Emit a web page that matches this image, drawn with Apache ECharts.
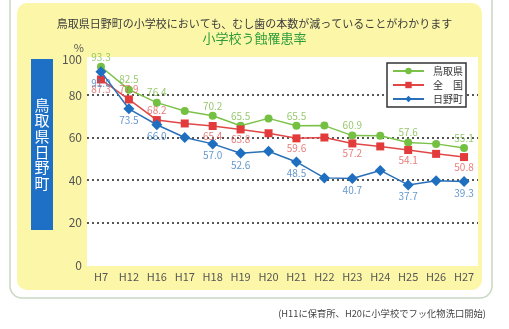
<!DOCTYPE html>
<html>
<head>
<meta charset="utf-8">
<script src="https://cdn.jsdelivr.net/npm/echarts@6/dist/echarts.min.js"></script>
<style>
  html, body { margin: 0; padding: 0; background: #ffffff; }
  #chart { width: 509px; height: 329px; }
</style>
</head>
<body>
<div id="chart"></div>
<script>
// Survey years (Heisei era)
const years = ['H7', 'H12', 'H16', 'H17', 'H18', 'H19', 'H20', 'H21', 'H22', 'H23', 'H24', 'H25', 'H26', 'H27'];

// Caries prevalence among elementary-school pupils (%)
const tottori = [93.3, 82.5, 76.4, 72.5, 70.2, 65.5, 69.0, 65.5, 65.6, 60.9, 60.8, 57.6, 57.0, 55.1];
const national = [87.3, 77.9, 68.2, 66.6, 65.4, 63.8, 62.0, 59.6, 60.0, 57.2, 55.8, 54.1, 52.3, 50.8];
const hino = [91.0, 73.5, 66.0, 60.0, 57.0, 52.6, 53.5, 48.5, 41.0, 40.7, 44.5, 37.7, 39.6, 39.3];

const seriesNames = ['鳥取県', '全\u3000国', '日野町'];
const yTicks = [0, 20, 40, 60, 80, 100];

// Years whose values are written beside the markers
const labelledIdx = [0, 1, 2, 4, 5, 7, 9, 11, 13];

// Fine placement of a few crowded value labels: [index, position, dx, dy]
const greenLabelTweaks = [[0, 'top', -5, 3], [1, 'top', 0, -7], [2, 'top', 6, 1], [4, 'top', 0, -7], [5, 'top', 0, 2]];
const redLabelTweaks = [[0, 'bottom', -5, -4], [1, 'top', 0, -5], [2, 'top', 0, 2]];
const blueLabelTweaks = [[0, 'bottom', -3, 9], [2, 'bottom', -3, -1]];

const FONT = '"Noto Sans CJK JP", "Noto Sans", sans-serif';

// Value labels live in a transparent overlay series so they sit above every line
function labelData(values, basePos, color, tweaks) {
  return values.map((v, i) => {
    const t = tweaks.find(x => x[0] === i);
    return {
      value: v,
      label: {
        show: labelledIdx.indexOf(i) >= 0,
        position: t ? t[1] : basePos,
        offset: t ? [t[2], t[3]] : [0, 0],
        distance: 1,
        color: color,
        fontSize: 10,
        fontFamily: FONT,
        formatter: (p) => p.value.toFixed(1)
      }
    };
  });
}

function lineSeries(name, values, symbol, size, color, lineColor, z) {
  return {
    name: name, type: 'line', data: values, symbol: symbol, symbolSize: size,
    itemStyle: { color: color }, lineStyle: { color: lineColor, width: 1.5 }, z: z
  };
}

function labelSeries(values, size, basePos, color, tweaks) {
  return {
    name: 'labels', type: 'scatter', data: labelData(values, basePos, color, tweaks),
    symbolSize: size, itemStyle: { color: 'rgba(0,0,0,0)' }, silent: true, z: 10,
    labelLayout: { hideOverlap: false }
  };
}

const chart = echarts.init(document.getElementById('chart'), null, { renderer: 'canvas' });

const option = {
  animation: false,
  backgroundColor: '#ffffff',
  title: [
    {
      text: '鳥取県日野町の小学校においても、むし歯の本数が減っていることがわかります',
      left: 'center',
      top: 13,
      textStyle: { fontFamily: FONT, fontSize: 11, fontWeight: 'normal', color: '#3a3a3a' }
    },
    {
      text: '小学校う蝕罹患率',
      left: 'center',
      top: 27,
      textStyle: { fontFamily: FONT, fontSize: 13, fontWeight: 'normal', color: '#2f9c3c' }
    }
  ],
  graphic: [
    // outer card frame
    { type: 'rect', z: -30, shape: { x: 10, y: -12, width: 482, height: 310, r: 12 },
      style: { fill: '#ffffff', stroke: '#c9d8c2', lineWidth: 1.5 } },
    // yellow panel
    { type: 'rect', z: -20, shape: { x: 17, y: 3, width: 465, height: 287, r: 10 },
      style: { fill: '#fcf7a8' } },
    // white plotting area
    { type: 'rect', z: -10, shape: { x: 87, y: 57, width: 391, height: 209 },
      style: { fill: '#ffffff' } },
    // vertical place-name banner
    { type: 'rect', z: -5, shape: { x: 31, y: 59, width: 22, height: 171 },
      style: { fill: '#1d70c6' } },
    { type: 'text', z: 5,
      style: { text: '鳥\n取\n県\n日\n野\n町', fill: '#ffffff', font: '15px ' + FONT,
               lineHeight: 15.6, align: 'center', verticalAlign: 'middle', x: 42, y: 144 } },
    // note
    { type: 'text', z: 5,
      style: { text: '(H11に保育所、H20に小学校でフッ化物洗口開始)', fill: '#444444',
               font: '9.3px ' + FONT, align: 'right', verticalAlign: 'middle', x: 486, y: 313 } }
  ],
  legend: {
    orient: 'vertical',
    left: 387,
    top: 63,
    data: seriesNames,
    backgroundColor: '#ffffff',
    borderColor: '#333333',
    borderWidth: 1.5,
    borderRadius: 0,
    padding: [2, 3, 2, 5],
    itemWidth: 31,
    itemHeight: 8,
    itemGap: 2,
    textStyle: { fontFamily: FONT, fontSize: 10, color: '#333333', lineHeight: 12, padding: [0, 0, 0, 4] }
  },
  grid: {
    left: 87,
    right: 31,
    top: 52.5,
    bottom: 64,
    containLabel: false,
    outerBoundsMode: 'none'
  },
  xAxis: {
    type: 'category',
    data: years,
    boundaryGap: true,
    axisLine: { show: false },
    axisTick: { show: false },
    axisLabel: { margin: 6, fontSize: 11, color: '#555555', fontFamily: FONT }
  },
  yAxis: {
    type: 'value',
    min: yTicks[0],
    max: yTicks[yTicks.length - 1],
    interval: 20,
    name: '%',
    nameLocation: 'end',
    nameGap: 5,
    nameTextStyle: { fontFamily: FONT, fontSize: 11, color: '#555555', align: 'right',
                     verticalAlign: 'top', padding: [0, 3, 0, 0] },
    axisLine: { show: false },
    axisTick: { show: false },
    axisLabel: {
      margin: 5,
      fontSize: 12,
      color: '#555555',
      fontFamily: FONT,
      formatter: (v) => (v === 100 ? '{d|' + v + '}' : String(v)),
      rich: { d: { fontSize: 12, color: '#555555', fontFamily: FONT, padding: [14, 0, 0, 0] } }
    },
    splitLine: {
      show: true,
      showMinLine: false,
      showMaxLine: false,
      lineStyle: { color: '#555555', width: 1.8, type: [2, 3] }
    }
  },
  series: [
    lineSeries(seriesNames[0], tottori, 'circle', 8, '#74c043', '#7cc24a', 3),
    lineSeries(seriesNames[1], national, 'rect', 8, '#e33b3b', '#e04848', 4),
    lineSeries(seriesNames[2], hino, 'diamond', 11, '#1e6fc0', '#2a70b8', 5),
    labelSeries(tottori, 8, 'top', '#7dba4a', greenLabelTweaks),
    labelSeries(national, 8, 'bottom', '#e0605c', redLabelTweaks),
    labelSeries(hino, 11, 'bottom', '#3b7dc0', blueLabelTweaks)
  ]
};

chart.setOption(option);
</script>
</body>
</html>
